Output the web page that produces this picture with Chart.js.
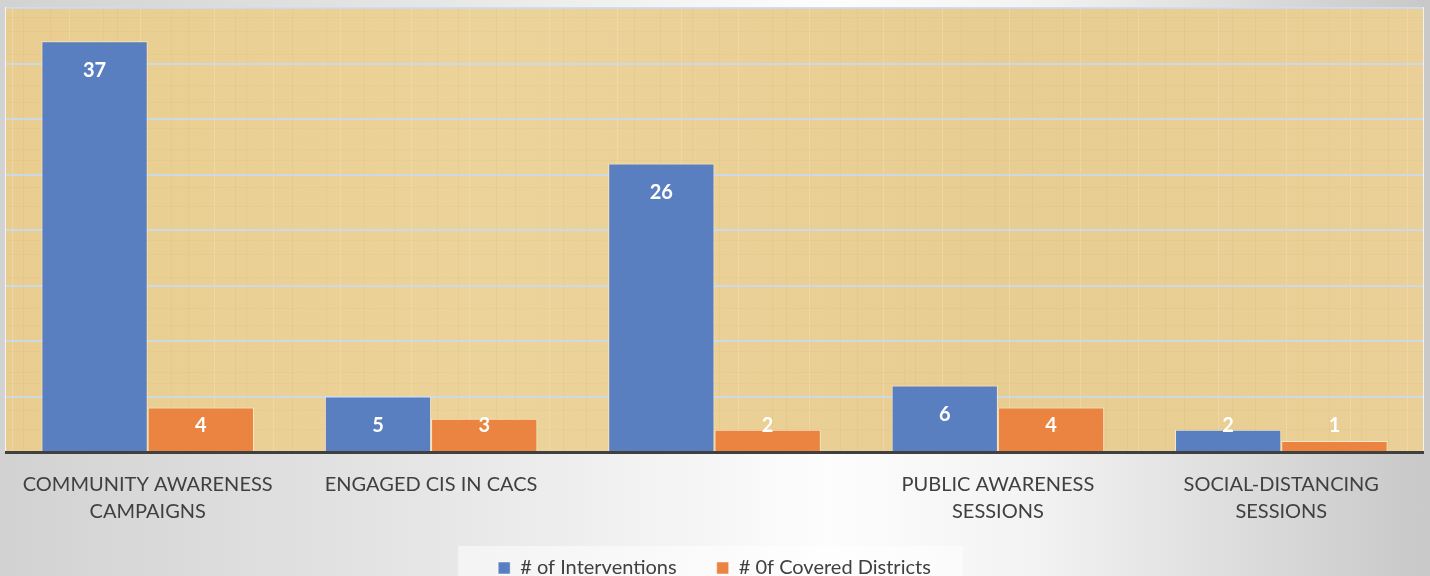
<!DOCTYPE html>
<html>
<head>
<meta charset="utf-8">
<script src="https://cdn.jsdelivr.net/npm/chart.js@4/dist/chart.umd.min.js"></script>
<style>
  html, body { margin: 0; padding: 0; }
  body {
    width: 1430px; height: 576px; overflow: hidden;
    background: linear-gradient(to right, #d2d2d2 0%, #e6e6e6 30%, #fdfdfd 58%, #f3f3f3 72%, #c8c8c8 100%);
  }
  /* a bit taller than the window: the legend sits low, as in the original slide */
  #wrap { position: relative; width: 1430px; height: 588px; }
</style>
</head>
<body>
<div id="wrap"><canvas id="responseChart"></canvas></div>
<script>
const categories = [
  ["COMMUNITY AWARENESS", "CAMPAIGNS"],
  ["ENGAGED CIS IN CACS"],
  [""],
  ["PUBLIC AWARENESS", "SESSIONS"],
  ["SOCIAL-DISTANCING", "SESSIONS"]
];
const interventions = [37, 5, 26, 6, 2];
const coveredDistricts = [4, 3, 2, 4, 1];
const seriesNames = ["# of Interventions", "# 0f Covered Districts"];
const yMax = 40;
const yStep = 5;

const FONT = "Lato, 'Open Sans', sans-serif";
const fibreSteps = [11, 27, 19, 34, 14, 23, 31, 17, 26, 21];

// papyrus-ish background behind the plot area
const plotBackground = {
  id: "plotBackground",
  beforeDraw(chart) {
    const { ctx, chartArea: a } = chart;
    ctx.save();
    const g = ctx.createLinearGradient(a.left, 0, a.right, 0);
    g.addColorStop(0, "#e9cd90");
    g.addColorStop(0.35, "#ecd399");
    g.addColorStop(0.7, "#e8cd92");
    g.addColorStop(1, "#ead096");
    ctx.fillStyle = g;
    ctx.fillRect(a.left, a.top, a.right - a.left, a.bottom - a.top);
    // faint fibres
    ctx.lineWidth = 1;
    let x = a.left + 6, k = 0;
    while (x < a.right) {
      ctx.strokeStyle = k % 3 === 0 ? "rgba(255,240,210,0.25)" : "rgba(180,150,90,0.09)";
      ctx.beginPath();
      ctx.moveTo(x + 0.5, a.top);
      ctx.lineTo(x + 0.5, a.bottom);
      ctx.stroke();
      x += fibreSteps[k % fibreSteps.length];
      k++;
    }
    let y = a.top + 9;
    k = 0;
    while (y < a.bottom) {
      ctx.strokeStyle = "rgba(180,150,90,0.07)";
      ctx.beginPath();
      ctx.moveTo(a.left, y + 0.5);
      ctx.lineTo(a.right, y + 0.5);
      ctx.stroke();
      y += fibreSteps[(k + 4) % fibreSteps.length];
      k++;
    }
    ctx.strokeStyle = "rgba(255,255,255,0.75)";
    ctx.strokeRect(a.left - 0.5, a.top - 0.5, a.right - a.left + 1, a.bottom - a.top + 1);

    // light panel behind the legend
    const boxes = chart.legend && chart.legend.legendHitBoxes;
    if (boxes && boxes.length) {
      const last = boxes[boxes.length - 1];
      const l = boxes[0].left - 40;
      const r = last.left + last.width + 32;
      ctx.fillStyle = "rgba(255,255,255,0.5)";
      ctx.fillRect(l, boxes[0].top - 12, r - l, 80);
    }
    ctx.restore();
  }
};

// white value labels, inside the top of the bar (pushed up for short bars)
const valueLabels = {
  id: "valueLabels",
  afterDatasetsDraw(chart) {
    const { ctx } = chart;
    ctx.save();
    ctx.fillStyle = "#ffffff";
    ctx.font = "bold 20px " + FONT;
    ctx.textAlign = "center";
    ctx.textBaseline = "middle";
    chart.data.datasets.forEach((ds, i) => {
      chart.getDatasetMeta(i).data.forEach((bar, j) => {
        const y = Math.min(bar.y + 29, bar.base - 25);
        ctx.fillText(String(ds.data[j]), bar.x, y);
      });
    });
    ctx.restore();
  }
};

new Chart(document.getElementById("responseChart"), {
  type: "bar",
  data: {
    labels: categories,
    datasets: [
      {
        label: seriesNames[0],
        data: interventions,
        backgroundColor: "#5a7fc0",
        borderColor: "rgba(255,255,255,0.5)",
        borderWidth: 1,
        barPercentage: 1.0,
        categoryPercentage: 0.75
      },
      {
        label: seriesNames[1],
        data: coveredDistricts,
        backgroundColor: "#ea8440",
        borderColor: "rgba(255,255,255,0.5)",
        borderWidth: 1,
        barPercentage: 1.0,
        categoryPercentage: 0.75
      }
    ]
  },
  options: {
    responsive: true,
    maintainAspectRatio: false,
    animation: false,
    layout: { padding: { left: 6, right: 7, top: 8, bottom: 0 } },
    scales: {
      x: {
        grid: { display: false, drawTicks: false },
        border: { display: true, color: "#404040", width: 3 },
        ticks: {
          color: "#404040",
          font: { size: 20, family: FONT, lineHeight: 1.35 },
          padding: 19,
          maxRotation: 0,
          autoSkip: false
        },
        afterFit(scale) { scale.height = 66; }
      },
      y: {
        min: 0,
        max: yMax,
        ticks: { display: false, stepSize: yStep },
        grid: { color: "rgba(200,218,238,0.9)", lineWidth: 2, drawTicks: false },
        border: { display: false }
      }
    },
    plugins: {
      legend: {
        position: "bottom",
        labels: {
          color: "#404040",
          font: { size: 20, family: FONT },
          boxWidth: 12,
          boxHeight: 12,
          padding: 40
        }
      },
      tooltip: { enabled: false }
    }
  },
  plugins: [plotBackground, valueLabels]
});
</script>
</body>
</html>
